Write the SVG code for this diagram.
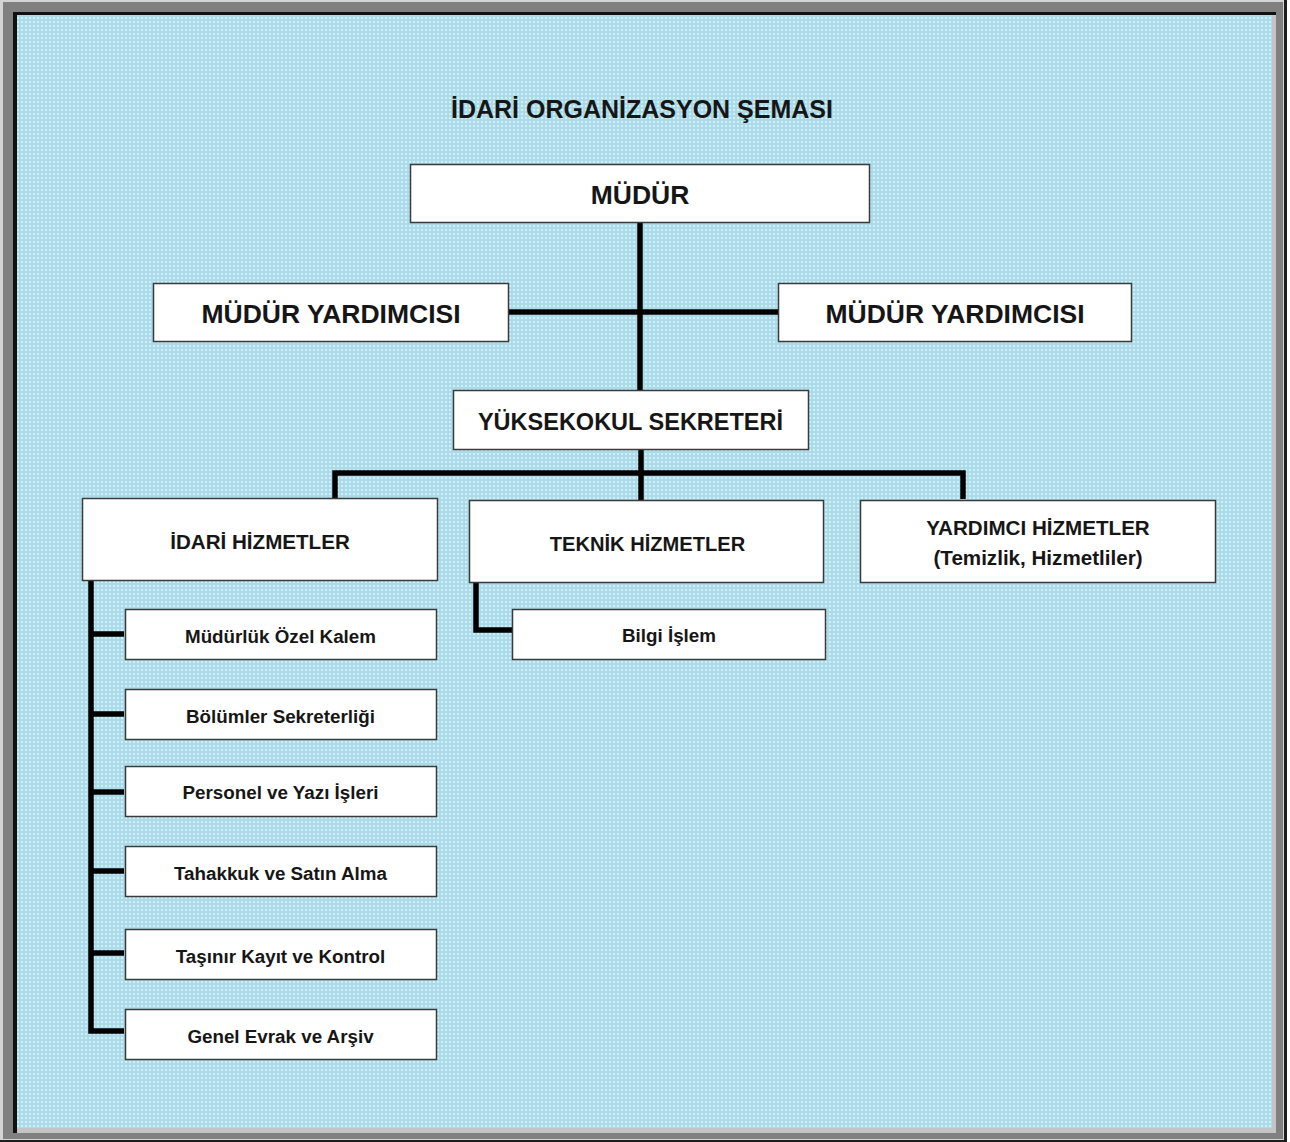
<svg xmlns="http://www.w3.org/2000/svg" width="1290" height="1142" viewBox="0 0 1290 1142">
<style>
.box{fill:#ffffff;stroke:#3a3a3a;stroke-width:1.5}
.t{font-family:"Liberation Sans",Arial,sans-serif;font-weight:bold;fill:#161616;text-anchor:middle}
.big{font-size:26.5px}
.mid{font-size:20.6px}
.sm{font-size:18.8px}
.ln{stroke:#000;stroke-width:5.5;fill:none;stroke-linejoin:miter;stroke-linecap:square}
</style>
<defs>
<pattern id="bg" x="0" y="0" width="4" height="4" patternUnits="userSpaceOnUse">
<rect width="4" height="4" fill="#acdae8"/>
<rect x="1" y="1" width="2" height="2" fill="#cef0f8"/>
</pattern>
</defs>
<rect width="1290" height="1142" fill="#ffffff"/>
<rect x="0" y="0" width="1287" height="1142" fill="#1e1e1e"/>
<rect x="0" y="0" width="1284" height="1140" fill="#d4d4d4"/>
<rect x="3" y="2" width="1280" height="1137" fill="#808080"/>
<rect x="13" y="12" width="1263" height="1121" fill="#111111"/>
<rect x="17" y="15" width="1259" height="1118" fill="#c4c4c4"/>
<rect x="17" y="15" width="1255" height="1113" fill="url(#bg)"/>
<text class="t" x="642" y="118" font-size="25">İDARİ ORGANİZASYON ŞEMASI</text>
<g id="connectors">
<path class="ln" d="M640,223 V389"/>
<path class="ln" d="M509,312 H777"/>
<path class="ln" d="M641,450 V498"/>
<path class="ln" style="stroke-linecap:butt" d="M335,498 V473 H963 V499"/>
<path class="ln" style="stroke-linecap:butt" d="M91,581 V1031 H124"/>
<path class="ln" style="stroke-linecap:butt" d="M91,634 H124 M91,714 H124 M91,792 H124 M91,871 H124 M91,953 H124"/>
<path class="ln" style="stroke-linecap:butt" d="M476,583 V630 H512"/>
</g>
<g id="mudur"><rect class="box" x="410.5" y="164.5" width="459" height="58"/><text class="t" x="640" y="204" font-size="26.5">MÜDÜR</text></g>
<g id="mudur-yard-1"><rect class="box" x="153.5" y="283.5" width="355" height="58"/><text class="t big" x="331" y="322.5">MÜDÜR YARDIMCISI</text></g>
<g id="mudur-yard-2"><rect class="box" x="778.5" y="283.5" width="353" height="58"/><text class="t big" x="955" y="322.5">MÜDÜR YARDIMCISI</text></g>
<g id="yuksekokul-sekreteri"><rect class="box" x="453.5" y="390.5" width="355" height="59"/><text class="t" x="630.5" y="429.5" font-size="23.5">YÜKSEKOKUL SEKRETERİ</text></g>
<g id="idari-hizmetler"><rect class="box" x="82.5" y="498.5" width="355" height="82"/><text class="t mid" x="260" y="549">İDARİ HİZMETLER</text></g>
<g id="teknik-hizmetler"><rect class="box" x="469.5" y="500.5" width="354" height="82"/><text class="t" x="647.5" y="550.5" font-size="20.1">TEKNİK HİZMETLER</text></g>
<g id="yardimci-hizmetler"><rect class="box" x="860.5" y="500.5" width="355" height="82"/><text class="t mid" x="1038" y="535">YARDIMCI HİZMETLER</text><text class="t mid" x="1038" y="565">(Temizlik, Hizmetliler)</text></g>
<g id="ozel-kalem"><rect class="box" x="125.5" y="609.5" width="311" height="50"/><text class="t sm" x="280.5" y="642.5">Müdürlük Özel Kalem</text></g>
<g id="bolumler"><rect class="box" x="125.5" y="689.5" width="311" height="50"/><text class="t sm" x="280.5" y="723">Bölümler Sekreterliği</text></g>
<g id="personel"><rect class="box" x="125.5" y="766.5" width="311" height="50"/><text class="t sm" x="280.5" y="798.5">Personel ve Yazı İşleri</text></g>
<g id="tahakkuk"><rect class="box" x="125.5" y="846.5" width="311" height="50"/><text class="t sm" x="280.5" y="879.5">Tahakkuk ve Satın Alma</text></g>
<g id="tasinir"><rect class="box" x="125.5" y="929.5" width="311" height="50"/><text class="t sm" x="280.5" y="962.5">Taşınır Kayıt ve Kontrol</text></g>
<g id="genel-evrak"><rect class="box" x="125.5" y="1009.5" width="311" height="50"/><text class="t sm" x="280.5" y="1042.5">Genel Evrak ve Arşiv</text></g>
<g id="bilgi-islem"><rect class="box" x="512.5" y="609.5" width="313" height="50"/><text class="t sm" x="669" y="641.5">Bilgi İşlem</text></g>
</svg>
